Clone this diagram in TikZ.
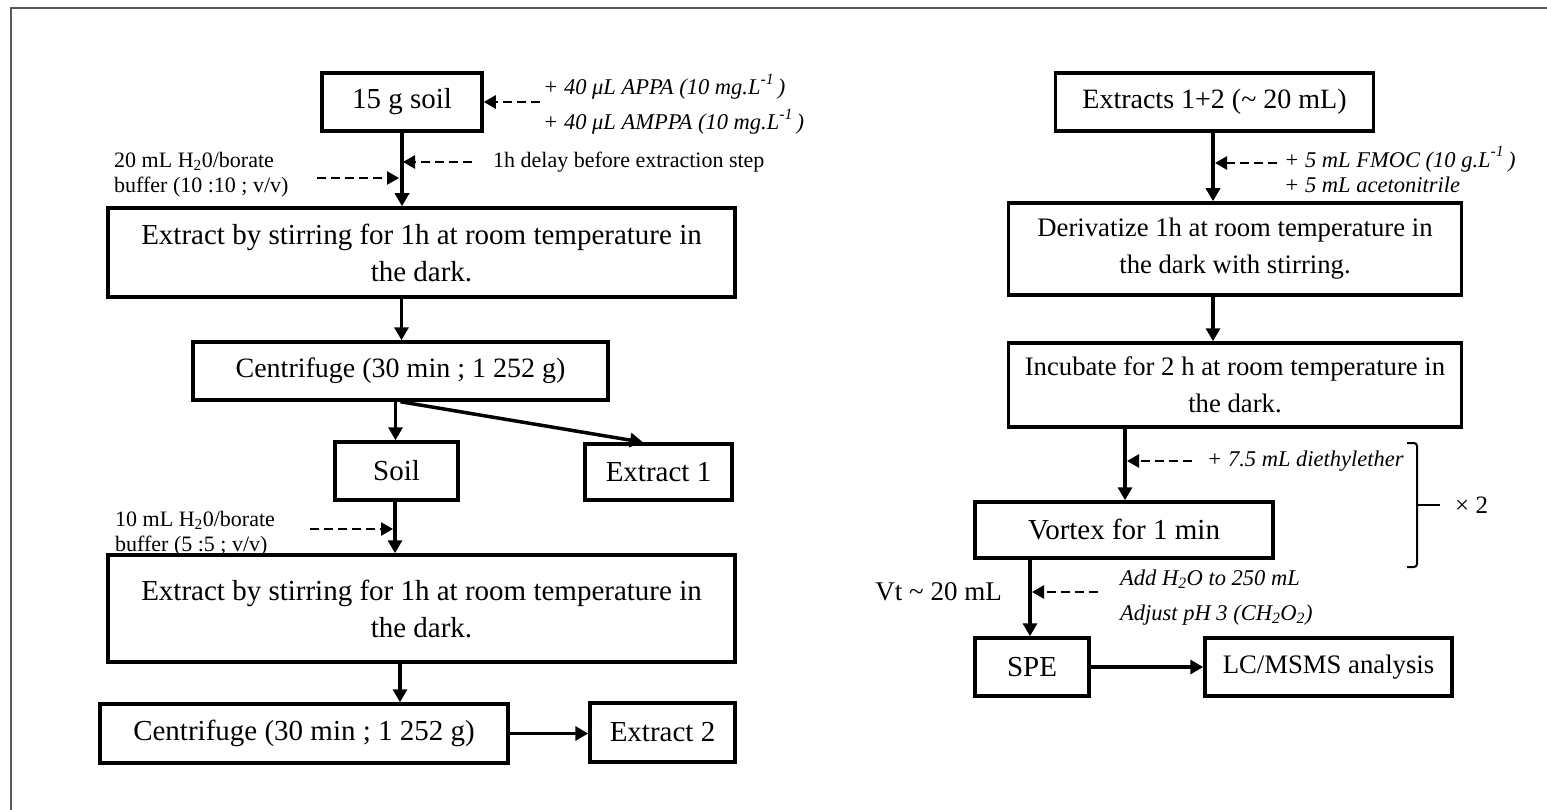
\documentclass[tikz,border=0pt]{standalone}
\usepackage{fontspec}
\setmainfont{Liberation Serif}
\usetikzlibrary{arrows.meta}
\begin{document}
\begin{tikzpicture}[x=1pt,y=-1pt,
  stepbox/.style={draw, line width=3.5pt, inner sep=0pt, align=center,
    font=\fontsize{29}{37}\selectfont},
  smallbox/.style={stepbox, font=\fontsize{26.7}{37}\selectfont},
  flow/.style={line width=3.5pt, -{Triangle[length=13pt,width=14pt]}},
  dashflow/.style={line width=2.5pt, dash pattern=on 9pt off 5pt,
    -{Triangle[length=12pt,width=13pt]}},
  note/.style={inner sep=0pt, anchor=west, align=left,
    font=\fontsize{22}{25}\selectfont},
  inote/.style={note, font=\fontsize{22.5}{25}\selectfont\itshape},
  frameline/.style={draw=black!65, line width=1.5pt}]

\useasboundingbox (0,0) rectangle (1547,810);

% page frame (top and left edges only)
\draw[frameline] (11,810) -- (11,8) -- (1547,8);

% ---------------- left column ----------------
\node[stepbox, minimum width=160pt, minimum height=58pt] (soil15) at (402,102) {15 g soil};
\node[stepbox, minimum width=627pt, minimum height=89pt] (stir1) at (421.5,252.5)
  {Extract by stirring for 1h at room temperature in\\the dark.};
\node[stepbox, font=\fontsize{28}{37}\selectfont, minimum width=415pt, minimum height=58pt] (cent1) at (400.5,371)
  {Centrifuge (30 min ; 1 252 g)};
\node[stepbox, minimum width=123pt, minimum height=58pt] (soil) at (396.5,471) {Soil};
\node[stepbox, minimum width=147pt, minimum height=56pt] (ext1) at (658.5,472) {Extract 1};
\node[stepbox, minimum width=627pt, minimum height=107pt] (stir2) at (421.5,608.5)
  {Extract by stirring for 1h at room temperature in\\the dark.};
\node[stepbox, minimum width=408pt, minimum height=59pt] (cent2) at (304,733.5)
  {Centrifuge (30 min ; 1 252 g)};
\node[stepbox, minimum width=145pt, minimum height=59pt] (ext2) at (662.5,732.5) {Extract 2};

% annotations, left column
\node[inote, font=\fontsize{22.5}{35}\selectfont\itshape] (appa) at (543,104)
  {+ 40 μL APPA (10 mg.L\raisebox{3pt}{\textsuperscript{-1}}\,)\\+ 40 μL AMPPA (10 mg.L\raisebox{3pt}{\textsuperscript{-1}}\,)};
\node[note] (delay) at (493,162) {1h delay before extraction step};
\node[note] (buf1) at (114,174.5) {20 mL H\textsubscript{2}0/borate\\buffer (10 :10 ; v/v)};
\node[note] (buf2) at (115,533.5) {10 mL H\textsubscript{2}0/borate\\buffer (5 :5 ; v/v)};

\coordinate (a1) at (540,102);
\coordinate (d1s) at (472,162);
\coordinate (d1e) at (403,162);
\coordinate (b1s) at (317,178);
\coordinate (b1e) at (399,178);
\coordinate (b2s) at (310,529);
\coordinate (b2e) at (393,529);

% main flow, left column
\draw[flow] (soil15.south) -- (soil15.south |- stir1.north);
\draw[flow] ([xshift=-20pt]stir1.south) -- ([xshift=-20pt]stir1.south |- cent1.north);
\draw[flow] ([xshift=-5pt]cent1.south) -- ([xshift=-5pt]cent1.south |- soil.north);
\draw[flow] (cent1.south) -- ([xshift=-15.5pt]ext1.north);
\draw[flow] ([xshift=-1.5pt]soil.south) -- ([xshift=-1.5pt]soil.south |- stir2.north);
\draw[flow] ([xshift=-21.5pt]stir2.south) -- ([xshift=-21.5pt]stir2.south |- cent2.north);
\draw[flow] (cent2.east) -- (cent2.east -| ext2.west);

% additions, left column
\draw[dashflow] (a1) -- (soil15.east);
\draw[dashflow] (d1s) -- (d1e);
\draw[dashflow] (b1s) -- (b1e);
\draw[dashflow] (b2s) -- (b2e);

% ---------------- right column ----------------
\node[stepbox, font=\fontsize{28}{37}\selectfont, minimum width=318pt, minimum height=58pt] (ext12) at (1214.5,102)
  {Extracts 1+2 (\textasciitilde\ 20 mL)};
\node[smallbox, minimum width=453pt, minimum height=92pt] (deriv) at (1235,249)
  {Derivatize 1h at room temperature in\\the dark with stirring.};
\node[smallbox, minimum width=453pt, minimum height=84pt] (incub) at (1235,385)
  {Incubate for 2 h at room temperature in\\the dark.};
\node[stepbox, minimum width=298pt, minimum height=56pt] (vortex) at (1124,530)
  {Vortex for 1 min};
\node[stepbox, minimum width=114pt, minimum height=58pt] (spe) at (1032,667) {SPE};
\node[smallbox, minimum width=247pt, minimum height=58pt] (lcms) at (1328.5,667)
  {LC/MSMS analysis};

% annotations, right column
\node[inote] (fmoc) at (1284,169.5)
  {+ 5 mL FMOC (10 g.L\raisebox{3pt}{\textsuperscript{-1}}\,)\\+ 5 mL acetonitrile};
\node[inote] (ether) at (1207,461) {+ 7.5 mL diethylether};
\node[inote, font=\fontsize{22.5}{35}\selectfont\itshape] (acid) at (1120,597.5)
  {Add H\textsubscript{2}O to 250 mL\\Adjust pH 3 (CH\textsubscript{2}O\textsubscript{2})};
\node[inner sep=0pt, anchor=east, font=\fontsize{27}{30}\selectfont] (vt) at (1002,592)
  {Vt \textasciitilde\ 20 mL};
\node[inner sep=0pt, anchor=west, font=\fontsize{25}{28}\selectfont] (times2) at (1455,505)
  {× 2};

\coordinate (f1s) at (1277,163);
\coordinate (f1e) at (1215,163);
\coordinate (e1s) at (1192,461);
\coordinate (e1e) at (1127,461);
\coordinate (h1s) at (1098,592);
\coordinate (h1e) at (1032,592);

% main flow, right column
\draw[flow] ([xshift=-1.5pt]ext12.south) -- ([xshift=-1.5pt]ext12.south |- deriv.north);
\draw[flow] ([xshift=-22pt]deriv.south) -- ([xshift=-22pt]deriv.south |- incub.north);
\draw[flow] ([xshift=1pt]vortex.north |- incub.south) -- ([xshift=1pt]vortex.north);
\draw[flow] ([xshift=-2pt]spe.north |- vortex.south) -- ([xshift=-2pt]spe.north);
\draw[flow] (spe.east) -- (lcms.west);

% additions, right column
\draw[dashflow] (f1s) -- (f1e);
\draw[dashflow] (e1s) -- (e1e);
\draw[dashflow] (h1s) -- (h1e);

% repeat bracket
\coordinate (brt) at (1407,443);
\coordinate (brb) at (1407,567);
\draw[line width=2pt, rounded corners=3pt] (brt) -- (1417,443) -- (1417,567) -- (brb);
\draw[line width=2pt] (1417,505) -- (1440,505);

\end{tikzpicture}
\end{document}
